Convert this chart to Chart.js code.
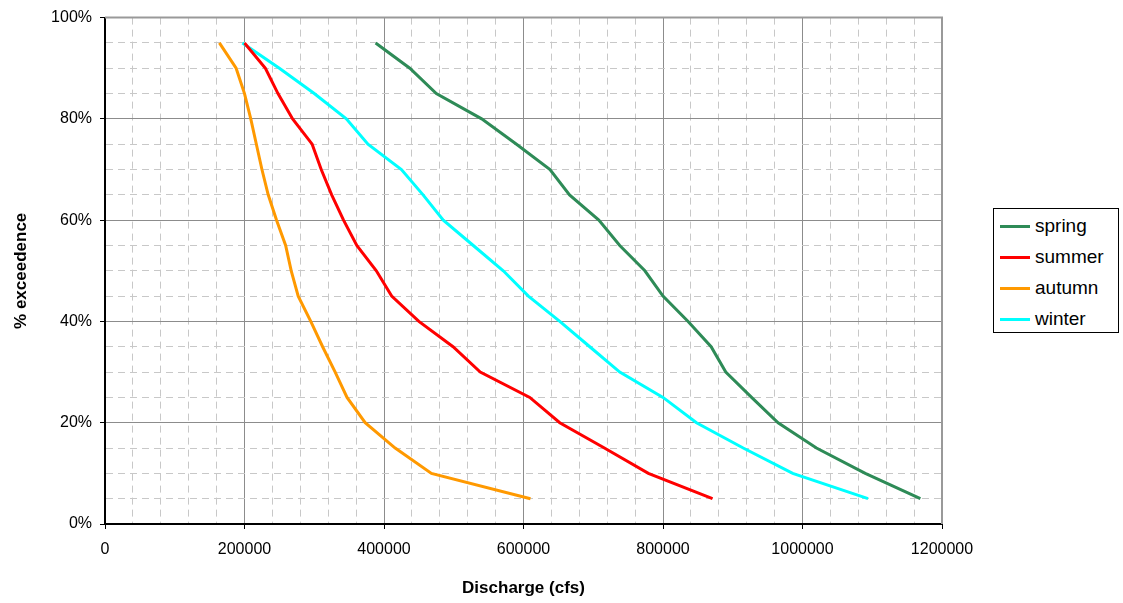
<!DOCTYPE html>
<html>
<head>
<meta charset="utf-8">
<script src="https://cdn.jsdelivr.net/npm/chart.js@4.4.0/dist/chart.umd.min.js"></script>
<style>
  body { margin: 0; background: #fff; }
  #wrap { position: relative; width: 1123px; height: 603px; }
  #legend {
    position: absolute; left: 993px; top: 208px; width: 124px; height: 123px;
    border: 1px solid #000; background: #fff;
    font-family: "Liberation Sans", Arial, sans-serif; font-size: 19px; color: #000;
  }
  #legend .item { position: absolute; left: 6px; height: 22px; line-height: 22px; white-space: nowrap; }
  #legend .swatch { display: inline-block; width: 30px; height: 3px; vertical-align: middle; margin-right: 5px; }
</style>
</head>
<body>
<div id="wrap">
  <canvas id="flowChart"></canvas>
  <div id="legend"></div>
</div>
<script>
// % exceedence levels (shared by all seasons)
const exceedence = [95, 90, 85, 80, 75, 70, 65, 60, 55, 50, 45, 40, 35, 30, 25, 20, 15, 10, 5];

// discharge (cfs) read for each exceedence level
const spring = [388000, 437000, 475000, 540000, 590000, 638000, 666000, 708000, 738000, 774000,
                800000, 836000, 869000, 890000, 927000, 965000, 1020000, 1090000, 1169000];
const summer = [200000, 230000, 248000, 269000, 297000, 310000, 325000, 342000, 361000, 389000,
                411000, 450000, 499000, 538000, 609000, 652000, 716000, 779000, 871000];
const autumn = [164000, 188000, 200000, 209000, 217000, 225000, 234000, 246000, 259000, 267000,
                277000, 295000, 312000, 330000, 347000, 373000, 416000, 468000, 610000];
const winter = [197000, 250000, 300000, 346000, 377000, 425000, 456000, 485000, 528000, 571000,
                607000, 652000, 695000, 738000, 800000, 848000, 915000, 986000, 1094000];

const seasons = ['spring', 'summer', 'autumn', 'winter'];
const seasonValues = [spring, summer, autumn, winter];
const seasonColors = ['#2E8B57', '#FF0000', '#FF9900', '#00FFFF'];

const FONT = '"Liberation Sans", Arial, sans-serif';
const X_MAJOR = 200000;
const Y_MAJOR = 20;

const datasets = seasons.map((name, i) => ({
    label: name,
    data: seasonValues[i].map((v, j) => ({ x: v, y: exceedence[j] })),
    borderColor: seasonColors[i],
    backgroundColor: seasonColors[i],
    borderWidth: 3,
    pointRadius: 0,
    fill: false,
    tension: 0,
}));

function isMajor(ctx, step) {
    return ctx.tick && Math.abs(ctx.tick.value % step) < 1e-6;
}

// grey frame on the top and right of the plot area
const frame = {
    id: 'frame',
    afterDraw(chart) {
        const { ctx, chartArea: a } = chart;
        ctx.save();
        ctx.strokeStyle = '#999999';
        ctx.lineWidth = 2;
        ctx.beginPath();
        ctx.moveTo(a.left, a.top);
        ctx.lineTo(a.right, a.top);
        ctx.lineTo(a.right, a.bottom);
        ctx.stroke();
        ctx.restore();
    }
};

const ctx = document.getElementById('flowChart').getContext('2d');
const chart = new Chart(ctx, {
    type: 'line',
    data: { datasets },
    options: {
        responsive: true,
        maintainAspectRatio: false,
        animation: false,
        layout: { padding: { left: 0, right: 181, top: 16, bottom: 0 } },
        plugins: {
            legend: { display: false },
            tooltip: { enabled: false },
        },
        scales: {
            x: {
                type: 'linear',
                min: 0,
                max: 1200000,
                afterFit: s => { s.height = 79; },
                ticks: {
                    stepSize: 40000,
                    autoSkip: false,
                    maxRotation: 0,
                    padding: 11,
                    color: '#000',
                    font: { family: FONT, size: 16 },
                    callback: v => (v % X_MAJOR === 0 ? String(v) : ''),
                },
                grid: {
                    color: c => (isMajor(c, X_MAJOR) ? '#8c8c8c' : '#c8c8c8'),
                    lineWidth: 1,
                    tickLength: 5,
                    tickColor: c => (isMajor(c, X_MAJOR) ? '#000' : 'rgba(0,0,0,0)'),
                },
                border: {
                    color: '#000',
                    width: 2,
                    dash: c => (c.tick && !isMajor(c, X_MAJOR) ? [7, 5] : []),
                },
                title: {
                    display: true,
                    text: 'Discharge (cfs)',
                    color: '#000',
                    font: { family: FONT, size: 17, weight: 'bold' },
                    padding: { top: 0, bottom: 4 },
                },
            },
            y: {
                type: 'linear',
                min: 0,
                max: 100,
                afterFit: s => { s.width = 105; },
                ticks: {
                    stepSize: 5,
                    autoSkip: false,
                    padding: 8,
                    color: '#000',
                    font: { family: FONT, size: 16 },
                    callback: v => (v % Y_MAJOR === 0 ? v + '%' : ''),
                },
                grid: {
                    color: c => (isMajor(c, Y_MAJOR) ? '#8c8c8c' : '#c8c8c8'),
                    lineWidth: 1,
                    tickLength: 5,
                    tickColor: c => (isMajor(c, Y_MAJOR) ? '#000' : 'rgba(0,0,0,0)'),
                },
                border: {
                    color: '#000',
                    width: 2,
                    dash: c => (c.tick && !isMajor(c, Y_MAJOR) ? [7, 5] : []),
                },
                title: {
                    display: true,
                    text: '% exceedence',
                    color: '#000',
                    font: { family: FONT, size: 17, weight: 'bold' },
                    padding: { top: 11, bottom: 0 },
                },
            },
        },
    },
    plugins: [frame],
});

// html legend built from the chart datasets
const legend = document.getElementById('legend');
chart.data.datasets.forEach((ds, i) => {
    const item = document.createElement('div');
    item.className = 'item';
    item.style.top = (6 + i * 31) + 'px';
    item.innerHTML = '<span class="swatch" style="background:' + ds.borderColor + '"></span>' + ds.label;
    legend.appendChild(item);
});
</script>
</body>
</html>
